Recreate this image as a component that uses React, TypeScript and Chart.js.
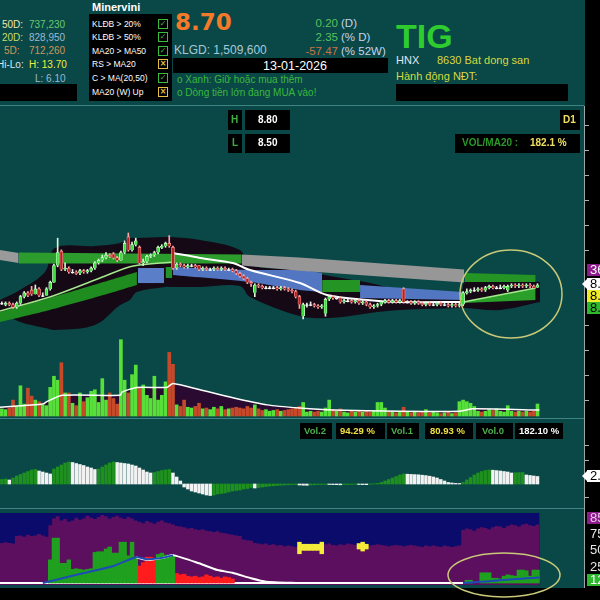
import React, { useEffect, useRef } from "react";
import { Chart, registerables } from "chart.js";

Chart.register(...registerables);

// ---------------- price candles (145 sessions) ----------------
const opens = [
  7.3, 7.2, 7.3, 7.2, 7.0, 7.3, 7.8, 8.1, 8.3, 8.0,
  8.4, 7.9, 7.9, 8.4, 8.9, 10.2, 11.3, 9.9, 10.0, 9.7,
  9.7, 9.6, 9.8, 9.7, 9.8, 10.0, 10.4, 10.6, 10.8, 11.0,
  11.1, 10.8, 10.6, 11.2, 12.4, 11.4, 11.8, 11.6, 10.4, 10.5,
  10.9, 11.0, 11.2, 11.6, 11.7, 11.9, 11.6, 10.0, 10.3, 10.2,
  10.1, 10.2, 10.2, 10.2, 9.9, 10.0, 9.9, 9.9, 10.0, 9.9,
  10.0, 9.9, 9.9, 9.8, 9.6, 9.4, 9.2, 8.9, 8.1, 8.7,
  8.6, 8.5, 8.5, 8.5, 8.5, 8.4, 8.5, 8.4, 8.3, 8.2,
  7.8, 6.3, 7.2, 7.2, 7.2, 7.1, 7.0, 6.5, 7.6, 7.8,
  7.7, 7.7, 7.4, 7.5, 7.5, 7.4, 7.5, 7.3, 7.4, 7.2,
  7.0, 7.1, 7.2, 7.4, 7.5, 7.4, 7.5, 7.4, 8.4, 7.4,
  7.4, 7.3, 7.4, 7.3, 7.2, 7.3, 7.2, 7.2, 7.3, 7.2,
  7.2, 7.1, 7.2, 7.1, 7.2, 8.1, 8.2, 8.3, 8.3, 8.4,
  8.3, 8.5, 8.6, 8.5, 8.5, 8.5, 8.3, 8.6, 8.7, 8.6,
  8.7, 8.6, 8.7, 8.6, 8.5,
];
const closes = [
  7.3, 7.3, 7.2, 7.0, 7.3, 7.8, 8.1, 7.9, 8.0, 8.4,
  7.9, 7.9, 8.4, 8.9, 10.2, 11.2, 9.9, 10.0, 9.7, 9.7,
  9.6, 9.8, 9.7, 9.8, 10.0, 10.4, 10.6, 10.8, 11.0, 10.9,
  10.8, 10.6, 11.2, 11.9, 11.4, 11.8, 12.1, 10.4, 10.5, 10.9,
  11.0, 11.2, 11.6, 11.7, 11.9, 11.7, 10.0, 10.3, 10.2, 10.1,
  10.2, 10.2, 10.1, 9.9, 10.0, 9.9, 9.9, 10.0, 9.9, 10.0,
  9.9, 9.9, 9.8, 9.6, 9.4, 9.2, 8.9, 8.8, 8.7, 8.6,
  8.5, 8.5, 8.5, 8.5, 8.4, 8.5, 8.4, 8.3, 8.2, 7.8,
  7.2, 7.2, 7.2, 7.2, 7.1, 7.0, 7.1, 7.6, 7.8, 7.7,
  7.7, 7.4, 7.5, 7.5, 7.4, 7.5, 7.3, 7.4, 7.2, 7.0,
  7.1, 7.2, 7.4, 7.5, 7.4, 7.5, 7.4, 7.5, 7.4, 7.4,
  7.3, 7.4, 7.3, 7.2, 7.3, 7.2, 7.2, 7.3, 7.2, 7.2,
  7.1, 7.2, 7.1, 7.2, 8.1, 8.2, 8.3, 8.3, 8.4, 8.3,
  8.5, 8.6, 8.5, 8.5, 8.5, 8.6, 8.6, 8.7, 8.6, 8.7,
  8.6, 8.7, 8.6, 8.5, 8.7,
];
const highs = [
  7.4, 7.4, 7.4, 7.3, 7.4, 7.9, 8.2, 8.2, 8.6, 8.7,
  8.5, 8.1, 8.5, 9.0, 10.3, 12.3, 11.4, 10.4, 10.1, 9.9,
  9.8, 9.9, 9.9, 9.9, 10.1, 10.5, 10.7, 11.0, 11.2, 11.1,
  11.2, 10.9, 11.3, 12.1, 12.7, 12.0, 12.3, 11.7, 10.7, 11.0,
  11.1, 11.3, 11.7, 11.8, 12.0, 12.5, 11.7, 10.4, 10.4, 10.3,
  10.3, 10.3, 10.3, 10.2, 10.1, 10.1, 10.0, 10.1, 10.1, 10.1,
  10.1, 10.0, 10.0, 9.9, 9.7, 9.5, 9.3, 9.0, 8.8, 8.8,
  8.7, 8.6, 8.6, 8.6, 8.6, 8.6, 8.6, 8.5, 8.4, 8.3,
  7.9, 7.3, 7.3, 7.4, 7.3, 7.2, 7.2, 7.7, 7.9, 7.9,
  7.8, 7.8, 7.6, 7.6, 7.6, 7.6, 7.6, 7.5, 7.5, 7.3,
  7.2, 7.3, 7.5, 7.6, 7.6, 7.6, 7.6, 7.6, 8.5, 7.5,
  7.5, 7.5, 7.5, 7.4, 7.4, 7.4, 7.3, 7.4, 7.4, 7.3,
  7.3, 7.3, 7.3, 7.3, 8.2, 8.4, 8.4, 8.5, 8.5, 8.5,
  8.6, 8.7, 8.7, 8.6, 8.7, 8.7, 8.7, 8.8, 8.8, 8.8,
  8.8, 8.8, 8.8, 8.7, 8.8,
];
const lows = [
  7.2, 7.1, 7.1, 6.9, 6.9, 7.2, 7.7, 7.8, 7.9, 8.0,
  7.8, 7.8, 7.9, 8.3, 8.9, 10.1, 9.8, 9.8, 9.6, 9.6,
  9.5, 9.5, 9.6, 9.6, 9.7, 9.9, 10.3, 10.5, 10.7, 10.8,
  10.7, 10.5, 10.6, 11.1, 11.3, 11.3, 11.7, 10.3, 10.2, 10.4,
  10.8, 10.9, 11.1, 11.5, 11.6, 11.6, 9.9, 9.9, 10.1, 10.0,
  10.0, 10.1, 10.0, 9.8, 9.8, 9.8, 9.8, 9.8, 9.8, 9.8,
  9.8, 9.8, 9.7, 9.5, 9.3, 9.1, 8.8, 8.6, 7.8, 8.5,
  8.4, 8.4, 8.4, 8.4, 8.3, 8.3, 8.3, 8.2, 8.1, 7.7,
  6.9, 6.1, 7.0, 7.1, 7.0, 6.9, 6.9, 6.3, 7.5, 7.6,
  7.6, 7.3, 7.3, 7.4, 7.3, 7.3, 7.2, 7.2, 7.1, 6.9,
  6.9, 7.0, 7.1, 7.3, 7.3, 7.3, 7.3, 7.3, 7.3, 7.3,
  7.2, 7.2, 7.2, 7.1, 7.1, 7.1, 7.1, 7.1, 7.1, 7.1,
  7.0, 7.0, 7.0, 7.0, 7.1, 8.0, 8.1, 8.2, 8.2, 8.2,
  8.2, 8.4, 8.4, 8.4, 8.4, 8.4, 8.2, 8.5, 8.5, 8.5,
  8.5, 8.5, 8.5, 8.4, 8.5,
];

// ---------------- volume (million shares) ----------------
const volumes = [
  0.9, 0.8, 1.0, 2.0, 1.2, 3.8, 1.5, 3.5, 2.5, 2.0,
  1.8, 1.4, 1.3, 3.6, 5.0, 4.5, 6.7, 2.9, 2.9, 1.6,
  1.3, 2.9, 1.8, 2.3, 3.1, 3.3, 1.7, 4.7, 2.0, 2.9,
  2.2, 1.5, 9.6, 4.5, 2.9, 5.2, 6.4, 3.5, 3.9, 2.6,
  2.2, 5.0, 2.0, 2.6, 4.3, 8.0, 6.5, 1.4, 1.2, 2.0,
  1.1, 1.0, 1.2, 1.6, 0.9, 1.0, 0.8, 1.1, 0.9, 1.2,
  0.8, 0.9, 1.0, 1.1, 1.0, 0.9, 1.2, 1.0, 1.4, 0.9,
  0.7, 0.8, 0.6, 0.7, 0.8, 0.6, 0.7, 0.8, 0.9, 1.0,
  1.2, 1.7, 0.5, 0.6, 0.5, 0.6, 0.5, 1.0, 2.0, 0.8,
  0.6, 0.9, 0.5, 0.4, 0.6, 0.5, 0.7, 0.5, 0.6, 0.5,
  0.6, 1.7, 1.7, 1.0, 0.6, 0.5, 0.4, 0.5, 1.1, 0.5,
  0.4, 0.6, 0.4, 0.5, 0.8, 0.4, 0.5, 0.4, 0.3, 0.4,
  0.5, 0.3, 0.4, 1.8, 2.0, 1.8, 1.6, 1.2, 0.6, 0.5,
  0.6, 0.8, 0.7, 0.9, 0.6, 0.5, 1.3, 0.6, 0.5, 0.6,
  0.5, 0.6, 0.5, 0.6, 1.51,
];
const volMaX = [-0.5, 11, 12.1, 16.2, 31.8, 32.3, 36.3, 44.4, 46, 53.3, 62.1, 71.3, 80.1, 89, 107, 123.2, 126.6, 144.5];
const volMaY = [1.1, 1.5, 1.8, 2.6, 2.6, 3.0, 3.6, 3.6, 4.1, 3.3, 2.3, 1.4, 1.0, 0.75, 0.6, 0.6, 0.9, 0.75];

// ---------------- MACD histogram ----------------
const macdHist = [
  0.45, 0.5, 0.4, 0.6, 0.8, 0.95, 1.1, 1.25, 1.4, 1.45,
  1.3, 1.2, 1.1, 1.0, 1.5, 1.7, 1.9, 2.1, 2.2, 2.15,
  2.05, 1.95, 1.85, 1.7, 1.6, 1.45, 1.5, 1.7, 1.9, 2.1,
  2.2, 2.15, 2.1, 2.05, 2.0, 1.9, 1.8, 1.6, 1.4, 1.2,
  1.1, 1.15, 1.25, 1.35, 1.4, 1.45, 1.1, 0.7, 0.3, -0.3,
  -0.5, -0.7, -0.8, -0.9, -1.0, -1.1, -1.15, -1.1, -1.0, -0.95,
  -0.9, -0.8, -0.7, -0.65, -0.6, -0.5, -0.45, -0.35, -0.4, -0.35,
  -0.3, -0.25, -0.2, -0.18, -0.15, -0.12, -0.1, -0.08, -0.06, -0.05,
  -0.1, -0.12, -0.13, -0.1, -0.08, -0.06, -0.05, -0.04, -0.05, -0.06,
  -0.07, -0.08, -0.06, -0.05, -0.04, -0.03, -0.05, -0.06, -0.07, -0.03,
  0.02, 0.05, 0.15, 0.3, 0.45, 0.6, 0.75, 0.9, 1.0, 0.98,
  0.96, 0.94, 0.92, 0.88, 0.84, 0.78, 0.7, 0.6, 0.45, 0.3,
  0.15, 0.1, 0.06, 0.05, 0.15, 0.4, 0.65, 0.9, 1.1, 1.25,
  1.35, 1.4, 1.38, 1.34, 1.3, 1.25, 1.2, 1.1, 1.12, 1.14,
  1.15, 0.9, 0.85, 0.8, 0.75,
];

// ---------------- bottom oscillator panel ----------------
const oscPurple = [
  59, 60, 59, 58, 69, 70, 68, 71, 69, 70,
  72, 70, 68, 85, 95, 98, 92, 94, 90, 92,
  96, 93, 95, 99, 96, 94, 97, 100, 98, 95,
  97, 99, 96, 94, 97, 95, 92, 90, 88, 91,
  89, 87, 90, 92, 89, 88, 86, 84, 83, 82,
  80, 81, 79, 78, 79, 77, 76, 75, 76, 74,
  73, 72, 71, 70, 69, 64, 63, 62, 59, 58,
  57, 58, 56, 57, 55, 56, 54, 55, 54, 53,
  54, 56, 55, 57, 56, 55, 56, 57, 58, 56,
  55, 57, 56, 58, 57, 56, 58, 57, 56, 55,
  56, 57, 56, 55, 54, 55, 56, 55, 54, 55,
  56, 55, 54, 53, 55, 54, 55, 54, 53, 55,
  54, 53, 54, 55, 78, 80, 79, 77, 80, 82,
  81, 79, 82, 84, 83, 81, 84, 86, 85, 83,
  86, 87, 85, 84, 86,
];
const oscGreenIdx = [
  13, 14, 15, 16, 17, 18, 19, 20, 21, 22, 23, 24, 25, 26, 27, 28, 29, 30, 31, 32, 33, 34, 35, 36,
  42, 43, 44, 45, 46,
  125, 126, 129, 130, 131, 132, 133, 134, 135, 136, 137, 138, 139, 140, 141, 142, 143, 144,
];
const oscGreenVal = [
  34, 66, 66, 29, 29, 34, 20, 21, 20, 19, 20, 21, 45, 46, 46, 50, 53, 44, 44, 60, 60, 40, 60, 38,
  42, 44, 41, 41, 40,
  4, 4, 15, 15, 15, 7, 7, 6, 10, 12, 11, 10, 19, 19, 18, 10, 19, 19,
];
const oscRedIdx = [37, 38, 39, 40, 41, 47, 48, 49, 50, 51, 52, 53, 54, 55, 56, 57, 58, 59, 60, 61, 62];
const oscRedVal = [25, 30, 38, 38, 36, 14, 12, 13, 10, 9, 10, 8, 9, 12, 10, 8, 9, 7, 9, 8, 6];
const oscWhiteX = [36, 38, 40, 42, 44, 46, 53, 58, 62, 67, 71, 80];
const oscWhiteY = [38, 35, 34, 36, 38, 41, 29, 19, 15, 7, 2, 0];
const oscBaseX = [-0.5, 124];
const oscBaseY = [0, 0];
const oscBlueLX = [11, 20, 30, 36, 39, 44, 46];
const oscBlueLY = [0, 12, 25, 38, 35, 38, 41];
const oscBlueRX = [124, 132, 138, 144.5];
const oscBlueRY = [0, 3, 6, 8];
const yellowIdx = [80, 81, 82, 83, 84, 85, 86, 96, 97, 98];
const yellowLo = [43, 48, 48, 48, 48, 48, 43, 50, 47, 50];
const yellowHi = [60, 57, 57, 57, 57, 57, 60, 58, 60, 57];

// ---------------- price overlays (index, price) ----------------
const cloudX = [-0.5, 4.9, 11.6, 14.3, 25, 31.8, 34.4, 36.3, 43.9, 45.2, 53.3, 64, 66.7, 80.1, 88.2, 99, 107, 123.2, 124.5, 134, 144.7];
const cloudTop = [7.55, 8.32, 9.7, 11.55, 11.7, 11.93, 12.32, 12.32, 12.39, 12.39, 12.16, 11.39, 10.24, 9.85, 9.39, 8.85, 8.32, 8.01, 8.93, 9.08, 8.93];
const cloudBot = [6.62, 5.85, 5.39, 5.24, 5.62, 7.16, 7.55, 8.16, 8.55, 8.55, 8.55, 8.62, 7.78, 6.32, 6.16, 6.55, 6.78, 6.93, 6.93, 6.78, 7.39];
const gray1X = [-0.5, 4.5];
const gray1Top = [11.39, 11.16];
const gray1Bot = [10.62, 10.39];
const greenUpX = [4.5, 35, 64.5];
const greenUpTop = [11.2, 11.12, 11.05];
const greenUpBot = [10.36, 10.36, 10.36];
const gray2X = [64.5, 80, 124.3];
const gray2Top = [11.05, 10.82, 9.9];
const gray2Bot = [10.2, 9.8, 8.9];
const greenRX = [124.5, 143.5];
const greenRTop = [9.62, 9.47];
const greenRBot = [8.93, 8.93];
const lowGreenLX = [-0.5, 12.9, 26.4, 36.3];
const lowGreenLTop = [6.62, 7.7, 8.85, 9.7];
const lowGreenLBot = [5.85, 6.78, 7.85, 8.7];
const blueAX = [36.6, 43.6];
const blueATop = [10.01, 10.01];
const blueABot = [8.85, 8.85];
const blobX = [44, 45.8];
const blobTop = [10.08, 10.08];
const blobBot = [9.24, 9.24];
const blueBX = [46, 66.7, 80.1, 86.1];
const blueBTop = [10.08, 9.85, 9.85, 9.62];
const blueBBot = [9.47, 8.93, 8.32, 8.16];
const greenCX = [86.1, 96.3];
const greenCTop = [9.08, 9.08];
const greenCBot = [8.16, 8.16];
const blueDX = [96.3, 124];
const blueDTop = [8.7, 8.16];
const blueDBot = [7.7, 7.55];
const lowGreenRX = [124, 143.5];
const lowGreenRTop = [7.39, 8.47];
const lowGreenRBot = [7.31, 7.55];
const maGreenLX = [-0.5, 12.9, 26.4, 35.3, 46];
const maGreenLY = [6.7, 7.78, 9.24, 10.16, 10.47];
const maGreenRX = [124, 143.5];
const maGreenRY = [7.39, 8.47];
const maWhiteX = [46, 53.3, 62.1, 66.7, 80.1, 87.4, 98.2, 107, 123.2];
const maWhiteY = [11.16, 10.78, 10.39, 9.85, 8.85, 7.93, 7.55, 7.39, 7.39];

const BG = "#094846";
const FONT = '"Liberation Sans", Arial, sans-serif';

const pts = (xs: number[], ys: number[]) => xs.map((x, i) => ({ x, y: ys[i] }));

const band = (xs: number[], top: number[], bot: number[], color: string, order: number, tension = 0) => [
  { type: "line", data: pts(xs, top), yAxisID: "price", borderColor: "rgba(0,0,0,0)", borderWidth: 0, pointRadius: 0, backgroundColor: color, fill: "+1", order, tension },
  { type: "line", data: pts(xs, bot), yAxisID: "price", borderColor: "rgba(0,0,0,0)", borderWidth: 0, pointRadius: 0, fill: false, order, tension },
];

const lineDs = (xs: number[], ys: number[], color: string, width: number, order: number, axis = "price", tension = 0.3) => ({
  type: "line", data: pts(xs, ys), yAxisID: axis, borderColor: color, borderWidth: width, pointRadius: 0, fill: false, order, tension,
});

const navyPlugin = {
  id: "navyPanel",
  beforeDatasetsDraw(chart: any) {
    const { ctx } = chart;
    const x = chart.scales.x;
    const y = chart.scales.osc;
    const x0 = x.getPixelForValue(-0.5);
    const x1 = x.getPixelForValue(144.5);
    const yt = y.getPixelForValue(103);
    const yb = y.getPixelForValue(-3);
    ctx.save();
    ctx.fillStyle = "#0b0b6c";
    ctx.fillRect(x0, yt, x1 - x0, yb - yt);
    ctx.restore();
  },
};

function T(props: any) {
  const { x, y, c, s = 10, b = false, f = FONT, children } = props;
  return (
    <div style={{ position: "absolute", left: x, top: y, color: c, fontSize: s, fontWeight: b ? "bold" : "normal", fontFamily: f, whiteSpace: "nowrap", lineHeight: 1 }}>
      {children}
    </div>
  );
}
function Box(props: any) {
  const { x, y, w, h, bg = "#000" } = props;
  return <div style={{ position: "absolute", left: x, top: y, width: w, height: h, background: bg }} />;
}
function Check(props: any) {
  const ok = props.ok;
  const col = ok ? "#3cbc3c" : "#e8c040";
  return (
    <div style={{ position: "absolute", left: 158, top: props.y - 5, width: 8, height: 8, border: `1px solid ${col}`, color: col, fontSize: 8, lineHeight: "8px", textAlign: "center", fontFamily: '"DejaVu Sans", sans-serif', fontWeight: "bold" }}>
      {ok ? "✓" : "×"}
    </div>
  );
}
function Tag(props: any) {
  const { y, bg, c, text, arrow } = props;
  return (
    <>
      {arrow && <div style={{ position: "absolute", left: 582, top: y - 6, width: 0, height: 0, borderTop: "6px solid transparent", borderBottom: "6px solid transparent", borderRight: `6px solid ${bg}` }} />}
      <div style={{ position: "absolute", left: 587, top: y - 6, width: 20, height: 12, background: bg, color: c, fontSize: 13, lineHeight: "12px", fontFamily: FONT, paddingLeft: 3, whiteSpace: "nowrap" }}>{text}</div>
    </>
  );
}

export default function App() {
  const ref = useRef<HTMLCanvasElement>(null);

  useEffect(() => {
    const dir = closes.map((c, i) => (c > opens[i] ? 1 : c < opens[i] ? -1 : 0));
    const bodyColors = dir.map((d) => (d > 0 ? "#3ce03c" : d < 0 ? "#b42222" : "#f4f4f4"));
    const bodyBorders = dir.map((d) => (d > 0 ? "#d4ffd4" : d < 0 ? "#ffa0a0" : "#ffffff"));
    const wickColors = dir.map((d) => (d > 0 ? "#d8f8d8" : d < 0 ? "#ffa8a8" : "#e8e8e8"));
    const volColors = dir.map((d) => (d < 0 ? "#c64a2a" : "#58e03a"));
    const macdColors = macdHist.map((v, i) => (i === 0 || v >= macdHist[i - 1] ? "#1f901f" : "#f2f2f2"));

    const purpleData = [{ x: -0.5, y: oscPurple[0] }, ...oscPurple.map((v, i) => ({ x: i, y: v })), { x: oscPurple.length - 0.5, y: oscPurple[oscPurple.length - 1] }];

    const datasets: any[] = [
      { type: "bar", data: closes.map((c, i) => ({ x: i, y: [opens[i], c] })), yAxisID: "price", backgroundColor: bodyColors, borderColor: bodyBorders, borderWidth: 0.7, barThickness: 3, minBarLength: 1, grouped: false, order: 0 },
      { type: "bar", data: highs.map((h, i) => ({ x: i, y: [lows[i], h] })), yAxisID: "price", backgroundColor: wickColors, barThickness: 1, grouped: false, order: 1 },
      lineDs(maWhiteX, maWhiteY, "#ffffff", 2, 2),
      lineDs(maGreenLX, maGreenLY, "#a6e88c", 1.5, 2),
      lineDs(maGreenRX, maGreenRY, "#a6e88c", 1.5, 2, "price", 0),
      ...band(gray1X, gray1Top, gray1Bot, "#9a9a9a", 10),
      ...band(greenUpX, greenUpTop, greenUpBot, "#2c9c2c", 10),
      ...band(gray2X, gray2Top, gray2Bot, "#979797", 10),
      ...band(greenRX, greenRTop, greenRBot, "#249424", 10),
      ...band(lowGreenLX, lowGreenLTop, lowGreenLBot, "#1f8c1f", 10, 0.2),
      ...band(blueAX, blueATop, blueABot, "#5a7ec8", 10),
      ...band(blobX, blobTop, blobBot, "#22922a", 10),
      ...band(blueBX, blueBTop, blueBBot, "#5276c2", 10, 0.2),
      ...band(greenCX, greenCTop, greenCBot, "#249424", 10),
      ...band(blueDX, blueDTop, blueDBot, "#5276c2", 10),
      ...band(lowGreenRX, lowGreenRTop, lowGreenRBot, "#2aa02a", 10),
      ...band(cloudX, cloudTop, cloudBot, "#150916", 20, 0.35),
      { type: "bar", data: volumes.map((v, i) => ({ x: i, y: v })), yAxisID: "vol", backgroundColor: volColors, barThickness: 3, grouped: false, order: 5 },
      lineDs(volMaX, volMaY, "#ffffff", 1.5, 4, "vol", 0.2),
      { type: "line", data: pts(volMaX, volMaY), yAxisID: "vol", borderColor: "rgba(0,0,0,0)", borderWidth: 0, pointRadius: 0, fill: "origin", backgroundColor: "#2a0a30", order: 16, tension: 0.2 },
      { type: "bar", data: macdHist.map((v, i) => ({ x: i, y: v })), yAxisID: "macd", backgroundColor: macdColors, barThickness: 2.8, grouped: false, order: 5 },
      { type: "line", data: purpleData, yAxisID: "osc", stepped: "middle", borderColor: "rgba(0,0,0,0)", borderWidth: 0, pointRadius: 0, fill: { value: -3 }, backgroundColor: "#5c0f5e", order: 40 },
      lineDs(oscBaseX, oscBaseY, "#ffffff", 2, 9, "osc", 0),
      { type: "bar", data: oscGreenIdx.map((x, i) => ({ x, y: oscGreenVal[i] })), yAxisID: "osc", backgroundColor: "#1fa01f", barThickness: 3.8, grouped: false, order: 8 },
      { type: "bar", data: oscRedIdx.map((x, i) => ({ x, y: oscRedVal[i] })), yAxisID: "osc", backgroundColor: "#ff1c1c", barThickness: 3.8, grouped: false, order: 8 },
      { type: "bar", data: yellowIdx.map((x, i) => ({ x, y: [yellowLo[i], yellowHi[i]] })), yAxisID: "osc", backgroundColor: "#f4ec3a", barThickness: 3.8, grouped: false, order: 7 },
      lineDs(oscWhiteX, oscWhiteY, "#ffffff", 2, 6, "osc", 0.2),
      lineDs(oscBlueLX, oscBlueLY, "#1c4cb4", 2, 5, "osc", 0.2),
      lineDs(oscBlueRX, oscBlueRY, "#1c4cb4", 2, 5, "osc", 0.2),
    ];

    const chart = new Chart(ref.current as HTMLCanvasElement, {
      type: "bar",
      data: { datasets },
      plugins: [navyPlugin],
      options: {
        animation: false,
        responsive: false,
        maintainAspectRatio: false,
        devicePixelRatio: 1,
        events: [],
        layout: { padding: 0 },
        plugins: { legend: { display: false }, tooltip: { enabled: false }, title: { display: false } },
        scales: {
          x: { type: "linear", min: -0.5, max: 156.5, display: false, offset: false },
          price: { type: "linear", position: "right", min: -14.6077, max: 22.3923, display: false },
          vol: { type: "linear", position: "right", min: -21.635, max: 38.868, display: false },
          macd: { type: "linear", position: "right", min: -10.4, max: 37.7, display: false },
          osc: { type: "linear", position: "right", min: -7.353, max: 700, display: false },
        },
      } as any,
    } as any);
    return () => chart.destroy();
  }, []);

  const ticks = [125, 150, 175, 200, 225, 250, 325, 350, 375, 400, 445, 460, 497];

  return (
    <div style={{ position: "fixed", left: 0, top: 0, width: 600, height: 600, overflow: "hidden", background: BG, fontFamily: FONT }}>
      <T x={2} y={20} c="#efe6a8">50D:</T>
      <T x={29} y={20} c="#6cc96c">737,230</T>
      <T x={2} y={33} c="#c8dc6c">20D:</T>
      <T x={29} y={33} c="#9cb8d4">828,950</T>
      <T x={4} y={46} c="#d4965a">5D:</T>
      <T x={29} y={46} c="#c8965e">712,260</T>
      <T x={-3} y={60} c="#dfe6ee">Hi-Lo:</T>
      <T x={29} y={60} c="#f0ee40">H: 13.70</T>
      <T x={35} y={74} c="#9cb8d4">L: 6.10</T>
      <Box x={0} y={84} w={77} h={17} />

      <T x={92} y={2} c="#ffffff" s={11} b>Minervini</T>
      <Box x={89} y={14} w={83} h={87} />
      <T x={92} y={20} c="#ffffff" s={8.5}>KLĐB &gt; 20%</T>
      <T x={92} y={33} c="#ffffff" s={8.5}>KLĐB &gt; 50%</T>
      <T x={92} y={47} c="#ffffff" s={8.5}>MA20 &gt; MA50</T>
      <T x={92} y={60} c="#ffffff" s={8.5}>RS &gt; MA20</T>
      <T x={92} y={74} c="#ffffff" s={8.5}>C &gt; MA(20,50)</T>
      <T x={92} y={88} c="#ffffff" s={8.5}>MA20 (W) Up</T>
      <Check y={24} ok />
      <Check y={37} ok />
      <Check y={51} ok />
      <Check y={64} ok={false} />
      <Check y={78} ok />
      <Check y={92} ok={false} />

      <T x={175} y={11} c="#f47a2a" s={23} b f='"DejaVu Sans", sans-serif'>8.70</T>
      <T x={174} y={44} c="#a8c8d8" s={12}>KLGD: 1,509,600</T>
      <Box x={173} y={58} w={215} h={15} />
      <T x={263} y={60} c="#ffffff" s={12.5}>13-01-2026</T>
      <T x={177} y={75} c="#3cb83c" s={10}>o Xanh: Giữ hoặc mua thêm</T>
      <T x={177} y={88} c="#3cb83c" s={10}>o Dòng tiền lớn đang MUA vào!</T>

      <div style={{ position: "absolute", left: 290, top: 18, width: 48, textAlign: "right", color: "#5cc05c", fontSize: 11.5, lineHeight: 1 }}>0.20</div>
      <T x={341} y={18} c="#c4d4ec" s={11.5}>(D)</T>
      <div style={{ position: "absolute", left: 290, top: 32, width: 48, textAlign: "right", color: "#5cc05c", fontSize: 11.5, lineHeight: 1 }}>2.35</div>
      <T x={341} y={32} c="#c4d4ec" s={11.5}>(% D)</T>
      <div style={{ position: "absolute", left: 290, top: 46, width: 48, textAlign: "right", color: "#c87444", fontSize: 11.5, lineHeight: 1 }}>-57.47</div>
      <T x={341} y={46} c="#c4d4ec" s={11.5}>(% 52W)</T>

      <T x={396} y={19} c="#2ecc2e" s={34} b>TIG</T>
      <T x={396} y={55} c="#e0e8f0" s={11}>HNX</T>
      <T x={437} y={55} c="#d8d840" s={11}>8630 Bat dong san</T>
      <T x={396} y={71} c="#d8d840" s={11}>Hành động NĐT:</T>
      <Box x={396} y={84} w={172} h={17} />

      <Box x={0} y={105} w={584} h={1} bg="#3f8482" />

      <canvas ref={ref} width={584} height={481} style={{ position: "absolute", left: 0, top: 107, width: 584, height: 481, display: "block" }} />

      <Box x={0} y={418} w={584} h={1} bg="#3f8482" />
      <Box x={0} y={508} w={584} h={1} bg="#3f8482" />
      <Box x={0} y={588} w={600} h={12} bg="#000" />

      <Box x={228} y={110} w={14} h={20} />
      <T x={231} y={115} c="#3cb03c" s={10} b>H</T>
      <Box x={245} y={110} w={45} h={20} />
      <T x={258} y={115} c="#ffffff" s={10} b>8.80</T>
      <Box x={228} y={134} w={14} h={19} />
      <T x={232} y={138} c="#3cb03c" s={10} b>L</T>
      <Box x={245} y={134} w={45} h={19} />
      <T x={258} y={138} c="#ffffff" s={10} b>8.50</T>
      <Box x={560} y={110} w={20} h={20} />
      <T x={563} y={115} c="#f0e060" s={10} b>D1</T>
      <Box x={455} y={134} w={125} h={19} />
      <T x={462} y={138} c="#2a9a2a" s={10} b>VOL/MA20 :</T>
      <T x={530} y={138} c="#f0e060" s={10} b>182.1 %</T>

      <Box x={300} y={423} w={32} h={16} />
      <T x={304} y={426} c="#4caf4c" s={9.5} b>Vol.2</T>
      <Box x={336} y={423} w={49} h={16} />
      <T x={340} y={426} c="#f0e040" s={9.5} b>94.29 %</T>
      <Box x={387} y={423} w={32} h={16} />
      <T x={391} y={426} c="#4caf4c" s={9.5} b>Vol.1</T>
      <Box x={425} y={423} w={48} h={16} />
      <T x={430} y={426} c="#f0e040" s={9.5} b>80.93 %</T>
      <Box x={476} y={423} w={37} h={16} />
      <T x={482} y={426} c="#4caf4c" s={9.5} b>Vol.0</T>
      <Box x={515} y={423} w={48} h={16} />
      <T x={519} y={426} c="#ffffff" s={9.5} b>182.10 %</T>

      <Box x={585} y={0} w={15} h={600} />
      <Box x={584} y={106} w={1} h={482} bg="#9aa6a6" />
      {ticks.map((t) => (
        <Box key={t} x={585} y={t} w={4} h={1} bg="#b0b0b0" />
      ))}
      <Tag y={270} bg="#8c1c8c" c="#ffffff" text="36.4" />
      <Tag y={284} bg="#ffffff" c="#000000" text="8.70" arrow />
      <Tag y={296} bg="#f0ec28" c="#000000" text="8.58" />
      <Tag y={308} bg="#2eb82e" c="#000000" text="8.41" />
      <Tag y={476} bg="#ffffff" c="#000000" text="2.05" arrow />
      <Tag y={518} bg="#8c1c8c" c="#e8c8e8" text="85" />
      <T x={590} y={527} c="#e8e8e8" s={13}>75</T>
      <T x={590} y={543} c="#e8e8e8" s={13}>50</T>
      <T x={590} y={560} c="#e8e8e8" s={13}>25</T>
      <Tag y={580} bg="#2eb82e" c="#ffffff" text="12" />

      <svg width={600} height={600} style={{ position: "absolute", left: 0, top: 0, pointerEvents: "none" }}>
        <ellipse cx={511} cy={294} rx={51} ry={44} fill="none" stroke="#c8c878" strokeWidth={1.5} />
        <ellipse cx={504} cy={575} rx={56} ry={22} fill="none" stroke="#c8c878" strokeWidth={1.5} />
      </svg>
    </div>
  );
}
